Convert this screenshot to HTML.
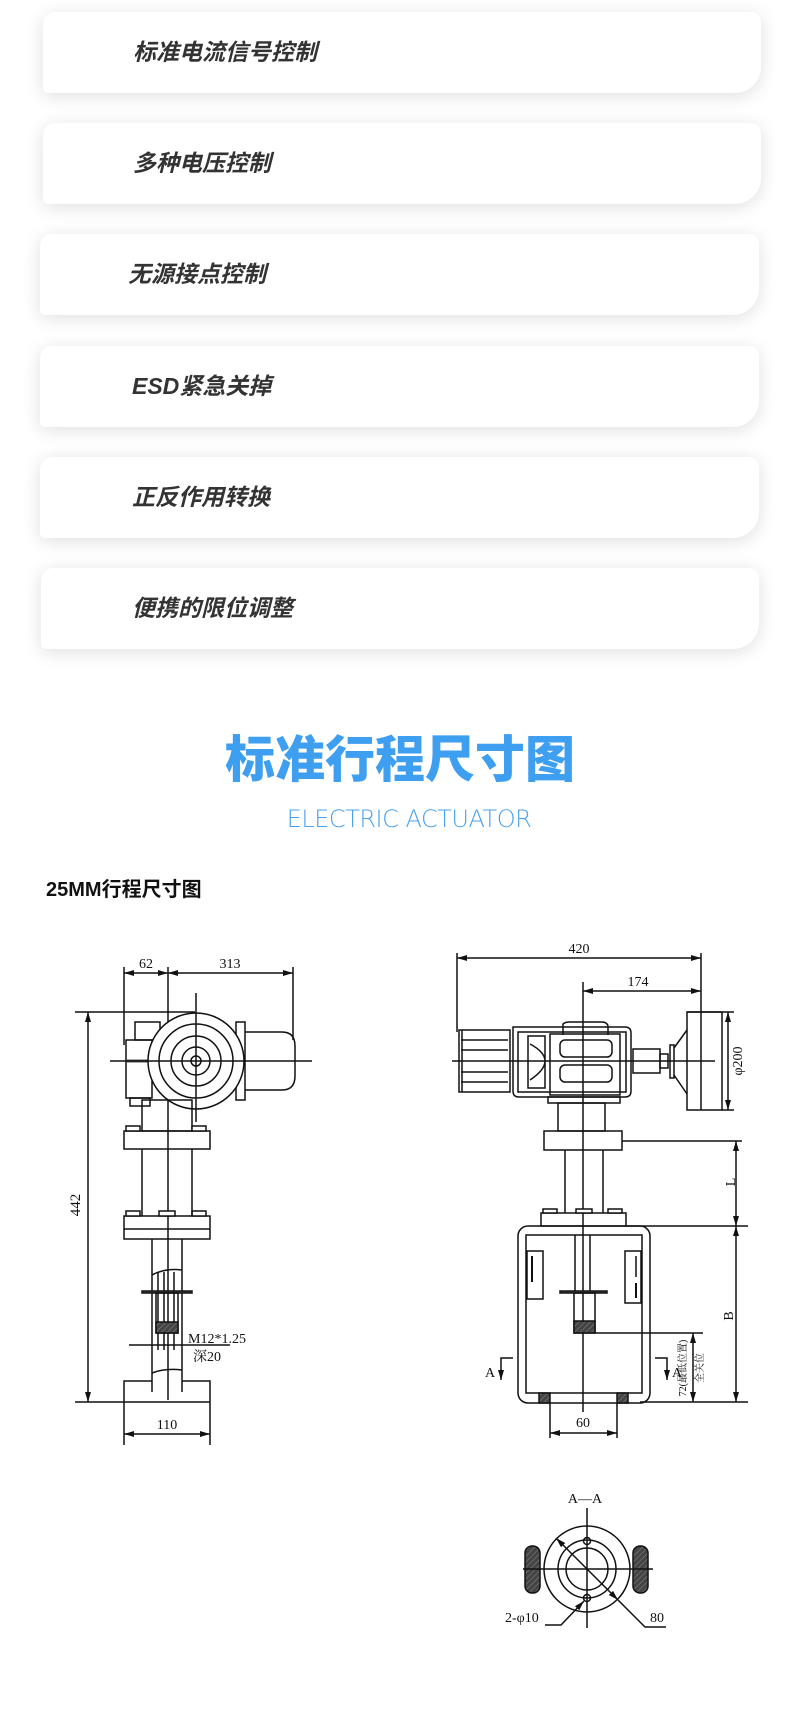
<!DOCTYPE html>
<html><head><meta charset="utf-8"><style>
html,body{margin:0;padding:0;background:#fff;}
body{width:800px;height:1709px;position:relative;overflow:hidden;font-family:"Liberation Sans","Noto Sans CJK SC",sans-serif;}
.card{position:absolute;background:#fff;border-radius:12px 10px 26px 5px;box-shadow:0 3px 18px rgba(0,0,0,0.13);}
.card span{position:absolute;left:90px;top:0;line-height:81px;font-size:23px;font-weight:bold;font-style:italic;color:#333;font-family:"Liberation Sans","Noto Sans CJK SC",sans-serif;}
.t1{position:absolute;left:0;width:800px;text-align:center;top:724px;font-size:50px;line-height:64px;font-weight:900;color:#3e9ef0;font-family:"Noto Sans CJK SC",sans-serif;}
.t2{position:absolute;left:0;width:818px;text-align:center;top:804px;font-size:24px;line-height:30px;color:#4aa2ee;font-family:"DejaVu Sans","Liberation Sans",sans-serif;font-weight:200;letter-spacing:-0.5px;}
.t3{position:absolute;left:46px;top:877px;font-size:20px;line-height:26px;font-weight:bold;color:#111;}
svg{position:absolute;left:0;top:0;}
</style></head><body>
<div class="card" style="left:43px;top:12px;width:718px;height:81px"><span>标准电流信号控制</span></div>
<div class="card" style="left:43px;top:123px;width:718px;height:81px"><span>多种电压控制</span></div>
<div class="card" style="left:40px;top:234px;width:719px;height:81px"><span style="left:88px">无源接点控制</span></div>
<div class="card" style="left:40px;top:346px;width:719px;height:81px"><span style="left:92px">ESD紧急关掉</span></div>
<div class="card" style="left:40px;top:457px;width:719px;height:81px"><span style="left:92px">正反作用转换</span></div>
<div class="card" style="left:41px;top:568px;width:718px;height:81px"><span style="left:91px">便携的限位调整</span></div>
<div class="t1">标准行程尺寸图</div>
<div class="t2">ELECTRIC ACTUATOR</div>
<div class="t3">25MM行程尺寸图</div>
<svg width="800" height="1709" viewBox="0 0 800 1709" font-family="Liberation Serif, Noto Serif CJK SC, serif" fill="none" stroke="#111" stroke-width="1.5">
<defs>
<marker id="a" markerWidth="10" markerHeight="6" refX="10" refY="3" orient="auto-start-reverse" markerUnits="userSpaceOnUse"><path d="M0,0 L10,3 L0,6z" fill="#111" stroke="none"/></marker>
<pattern id="h" width="4" height="4" patternUnits="userSpaceOnUse" patternTransform="rotate(45)"><rect width="4" height="4" fill="#444" stroke="none"/><line x1="0" y1="0" x2="0" y2="4" stroke="#888" stroke-width="1"/></pattern>
</defs>
<g>
<line x1="124" y1="967" x2="124" y2="1045"/>
<line x1="168" y1="967" x2="168" y2="1400"/>
<line x1="293" y1="967" x2="293" y2="1040"/>
<line x1="124" y1="973" x2="168" y2="973" marker-start="url(#a)" marker-end="url(#a)"/>
<line x1="168" y1="973" x2="293" y2="973" marker-start="url(#a)" marker-end="url(#a)"/>
<g fill="#111" stroke="none" font-size="14"><text x="146" y="968" text-anchor="middle">62</text><text x="230" y="968" text-anchor="middle">313</text></g>
<line x1="75" y1="1012" x2="195" y2="1012"/>
<line x1="75" y1="1402" x2="210" y2="1402"/>
<line x1="88" y1="1012" x2="88" y2="1402" marker-start="url(#a)" marker-end="url(#a)"/>
<text x="80" y="1205" transform="rotate(-90 80 1205)" text-anchor="middle" fill="#111" stroke="none" font-size="15">442</text>
<rect x="135" y="1022" width="25" height="18"/>
<rect x="126" y="1040" width="26" height="58"/>
<rect x="130" y="1098" width="20" height="8"/>
<line x1="126" y1="1061" x2="150" y2="1061" stroke-width="3" stroke="#555"/>
<rect x="236" y="1022" width="9" height="78"/>
<path d="M245,1032 H282 Q295,1032 295,1046 V1076 Q295,1090 282,1090 H245"/>
<circle cx="196" cy="1061" r="48" fill="#fff"/>
<circle cx="196" cy="1061" r="37"/>
<circle cx="196" cy="1061" r="25"/>
<circle cx="196" cy="1061" r="14"/>
<circle cx="196" cy="1061" r="5"/>
<line x1="110" y1="1061" x2="312" y2="1061"/>
<line x1="196" y1="993" x2="196" y2="1122"/>
<rect x="142" y="1100" width="50" height="31"/>
<rect x="124" y="1131" width="86" height="18"/>
<rect x="124" y="1216" width="86" height="23"/>
<line x1="124" y1="1229" x2="210" y2="1229"/>
<g fill="#fff"><rect x="126" y="1126" width="14" height="5"/><rect x="192" y="1126" width="14" height="5"/><rect x="126" y="1211" width="14" height="5"/><rect x="159" y="1211" width="16" height="5"/><rect x="192" y="1211" width="14" height="5"/></g>
<line x1="142" y1="1149" x2="142" y2="1216"/><line x1="192" y1="1149" x2="192" y2="1216"/>
<line x1="152" y1="1239" x2="152" y2="1392"/><line x1="182" y1="1239" x2="182" y2="1392"/>
<path d="M152,1275 Q165,1268 182,1270"/><path d="M152,1373 Q165,1368 182,1370"/>
<line x1="158" y1="1272" x2="158" y2="1350"/><line x1="164" y1="1272" x2="164" y2="1350"/><line x1="174" y1="1272" x2="174" y2="1350"/>
<rect x="142" y="1291" width="50" height="2" fill="#555"/>
<rect x="156" y="1293" width="22" height="40"/>
<rect x="156" y="1322" width="22" height="11" fill="url(#h)"/>
<line x1="129" y1="1345" x2="230" y2="1345"/>
<g fill="#111" stroke="none" font-size="14"><text x="188" y="1343">M12*1.25</text><text x="193" y="1361">深20</text></g>
<path d="M124,1402 V1381 H152 M182,1381 H210 V1402"/>
<line x1="124" y1="1402" x2="124" y2="1445"/><line x1="210" y1="1402" x2="210" y2="1445"/>
<line x1="124" y1="1434" x2="210" y2="1434" marker-start="url(#a)" marker-end="url(#a)"/>
<text x="167" y="1429" text-anchor="middle" fill="#111" stroke="none" font-size="14">110</text>
</g>
<g>
<line x1="457" y1="953" x2="457" y2="1032"/>
<line x1="701" y1="953" x2="701" y2="1110"/>
<line x1="457" y1="958" x2="701" y2="958" marker-start="url(#a)" marker-end="url(#a)"/>
<line x1="583" y1="991" x2="701" y2="991" marker-start="url(#a)" marker-end="url(#a)"/>
<g fill="#111" stroke="none" font-size="14"><text x="579" y="953" text-anchor="middle">420</text><text x="638" y="986" text-anchor="middle">174</text></g>
<rect x="459" y="1030" width="51" height="62"/>
<line x1="461" y1="1040" x2="508" y2="1040"/><line x1="461" y1="1050" x2="508" y2="1050"/><line x1="461" y1="1072" x2="508" y2="1072"/><line x1="461" y1="1082" x2="508" y2="1082"/>
<line x1="462" y1="1030" x2="462" y2="1092"/>
<path d="M513,1027 H625 Q631,1027 631,1033 V1091 Q631,1097 625,1097 H519 Q513,1097 513,1091z"/>
<rect x="518" y="1032" width="108" height="60"/>
<path d="M528,1036 H545 V1088 H528z M530,1044 Q545,1052 545,1061 Q545,1070 530,1080"/>
<rect x="550" y="1034" width="70" height="61"/>
<path d="M563,1035 V1024 Q565,1022 570,1022 H602 Q607,1022 608,1026 V1035"/>
<rect x="560" y="1040" width="52" height="17" rx="5"/>
<rect x="560" y="1065" width="52" height="17" rx="5"/>
<rect x="548" y="1097" width="72" height="6"/>
<rect x="633" y="1049" width="27" height="24"/>
<rect x="660" y="1054" width="8" height="14"/>
<rect x="670" y="1045" width="4" height="33"/>
<path d="M674,1048 L687,1030 M674,1075 L687,1094"/>
<rect x="687" y="1012" width="35" height="98"/>
<line x1="687" y1="1012" x2="734" y2="1012"/><line x1="722" y1="1110" x2="734" y2="1110"/>
<line x1="728" y1="1012" x2="728" y2="1110" marker-start="url(#a)" marker-end="url(#a)"/>
<text x="742" y="1061" transform="rotate(-90 742 1061)" text-anchor="middle" fill="#111" stroke="none" font-size="14">φ200</text>
<line x1="452" y1="1061" x2="715" y2="1061"/>
<line x1="583" y1="982" x2="583" y2="1412"/>
<rect x="558" y="1103" width="47" height="28"/>
<rect x="544" y="1131" width="78" height="19"/>
<line x1="622" y1="1141" x2="742" y2="1141"/>
<line x1="565" y1="1150" x2="565" y2="1213"/><line x1="603" y1="1150" x2="603" y2="1213"/>
<rect x="541" y="1213" width="85" height="13"/>
<g fill="#fff"><rect x="543" y="1209" width="14" height="4"/><rect x="576" y="1209" width="16" height="4"/><rect x="608" y="1209" width="14" height="4"/></g>
<rect x="518" y="1226" width="132" height="177" rx="10"/>
<rect x="526" y="1235" width="116" height="158"/>
<line x1="626" y1="1226" x2="748" y2="1226"/>
<line x1="640" y1="1402" x2="748" y2="1402"/>
<line x1="736" y1="1141" x2="736" y2="1226" marker-start="url(#a)" marker-end="url(#a)"/>
<line x1="736" y1="1226" x2="736" y2="1402" marker-start="url(#a)" marker-end="url(#a)"/>
<g fill="#111" stroke="none" font-size="14"><text x="735" y="1182" transform="rotate(-90 735 1182)" text-anchor="middle">L</text><text x="733" y="1316" transform="rotate(-90 733 1316)" text-anchor="middle">B</text></g>
<rect x="527" y="1251" width="16" height="48"/><line x1="532" y1="1256" x2="532" y2="1282" stroke-width="2"/>
<rect x="625" y="1251" width="16" height="52"/><line x1="636" y1="1256" x2="636" y2="1277"/><line x1="636" y1="1283" x2="636" y2="1298" stroke-width="2"/>
<line x1="575" y1="1235" x2="575" y2="1292"/><line x1="590" y1="1235" x2="590" y2="1292"/>
<rect x="560" y="1291" width="47" height="2" fill="#555"/>
<rect x="574" y="1293" width="21" height="40"/>
<rect x="574" y="1321" width="21" height="12" fill="url(#h)"/>
<line x1="595" y1="1333" x2="703" y2="1333"/>
<line x1="693" y1="1333" x2="693" y2="1402" marker-start="url(#a)" marker-end="url(#a)"/>
<g fill="#111" stroke="none" font-size="10"><text x="686" y="1368" transform="rotate(-90 686 1368)" text-anchor="middle">72(最低位置)</text><text x="703" y="1368" transform="rotate(-90 703 1368)" text-anchor="middle">全关位</text></g>
<path d="M513,1358 H501 V1380" marker-end="url(#a)"/><path d="M655,1358 H667 V1380" marker-end="url(#a)"/>
<g fill="#111" stroke="none" font-size="14"><text x="485" y="1377">A</text><text x="672" y="1377">A</text></g>
<rect x="539" y="1393" width="11" height="10" fill="url(#h)"/><rect x="617" y="1393" width="11" height="10" fill="url(#h)"/>
<line x1="550" y1="1403" x2="550" y2="1438"/><line x1="617" y1="1403" x2="617" y2="1438"/>
<line x1="550" y1="1433" x2="617" y2="1433" marker-start="url(#a)" marker-end="url(#a)"/>
<text x="583" y="1427" text-anchor="middle" fill="#111" stroke="none" font-size="14">60</text>
</g>
<g>
<text x="585" y="1503" text-anchor="middle" fill="#111" stroke="none" font-size="14">A—A</text>
<rect x="525" y="1546" width="15" height="47" rx="7" fill="url(#h)"/>
<rect x="633" y="1546" width="15" height="47" rx="7" fill="url(#h)"/>
<circle cx="587" cy="1569" r="43" fill="#fff"/>
<circle cx="587" cy="1569" r="29"/><circle cx="587" cy="1569" r="21"/>
<circle cx="587" cy="1541" r="3.5"/><circle cx="587" cy="1598" r="3.5"/>
<line x1="523" y1="1569" x2="653" y2="1569"/><line x1="587" y1="1508" x2="587" y2="1628"/>
<line x1="556" y1="1538" x2="618" y2="1600" marker-start="url(#a)" marker-end="url(#a)"/>
<path d="M618,1600 L645,1627 H666"/>
<path d="M584,1601 L561,1625 H545" marker-start="url(#a)"/>
<g fill="#111" stroke="none" font-size="14"><text x="505" y="1622">2-φ10</text><text x="650" y="1622">80</text></g>
</g>
</svg>
</body></html>
